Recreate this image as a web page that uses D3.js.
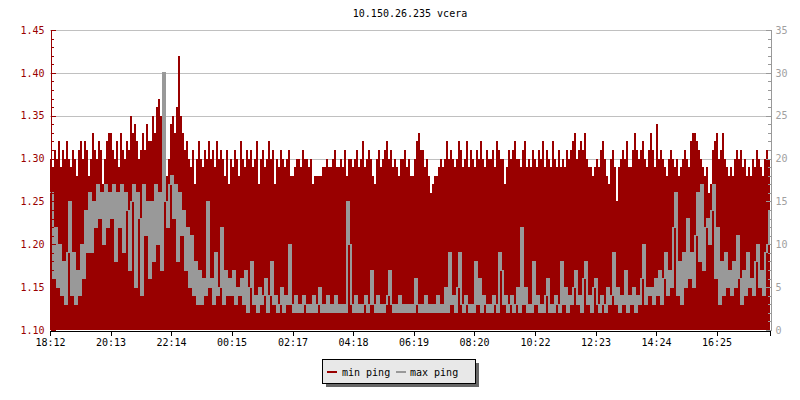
<!DOCTYPE html>
<html>
<head>
<meta charset="utf-8">
<script src="https://cdn.jsdelivr.net/npm/d3@7"></script>
<style>
  html, body { margin: 0; padding: 0; background: #ffffff; }
  svg { display: block; }
  text { font-family: "DejaVu Sans Mono", monospace; font-size: 10px; }
</style>
</head>
<body>
<svg id="chart" width="800" height="400"></svg>
<script>
// ---------------- data ----------------
const title = "10.150.26.235 vcera";
const startTime = "18:12";
const stepMinutes = 4;
const timeTickLabels = ["18:12","20:13","22:14","00:15","02:17","04:18","06:19","08:20","10:22","12:23","14:24","16:25"];
const leftTickLabels = ["1.10","1.15","1.20","1.25","1.30","1.35","1.40","1.45"];
const rightTickLabels = ["0","5","10","15","20","25","30","35"];
const seriesNames = ["min ping", "max ping"];

// min ping (left axis), one value per 4 minutes
const minPing = [
  1.30,1.29,1.31,1.30,1.32,1.29,1.31,1.30,1.32,1.30,
  1.29,1.31,1.30,1.28,1.31,1.32,1.30,1.32,1.31,1.28,
  1.30,1.33,1.31,1.30,1.32,1.31,1.27,1.30,1.32,1.33,
  1.33,1.31,1.30,1.32,1.29,1.33,1.31,1.30,1.32,1.31,
  1.35,1.33,1.34,1.32,1.30,1.31,1.33,1.31,1.34,1.32,
  1.32,1.35,1.33,1.36,1.37,1.35,1.37,1.31,1.28,1.30,
  1.34,1.35,1.33,1.36,1.42,1.35,1.33,1.31,1.32,1.30,
  1.29,1.31,1.27,1.30,1.32,1.30,1.29,1.31,1.30,1.32,
  1.30,1.31,1.29,1.32,1.30,1.31,1.30,1.28,1.31,1.27,
  1.30,1.29,1.31,1.30,1.28,1.32,1.30,1.29,1.31,1.30,
  1.31,1.29,1.30,1.32,1.27,1.30,1.31,1.29,1.30,1.32,
  1.30,1.31,1.27,1.30,1.29,1.31,1.30,1.29,1.30,1.31,
  1.28,1.28,1.29,1.30,1.30,1.29,1.31,1.30,1.30,1.29,
  1.30,1.27,1.28,1.28,1.28,1.28,1.29,1.29,1.30,1.29,
  1.29,1.30,1.31,1.29,1.29,1.30,1.29,1.31,1.28,1.30,
  1.30,1.29,1.30,1.31,1.29,1.30,1.32,1.29,1.30,1.31,
  1.30,1.28,1.27,1.30,1.31,1.29,1.30,1.31,1.32,1.30,
  1.31,1.29,1.30,1.29,1.28,1.30,1.30,1.31,1.29,1.30,
  1.28,1.28,1.30,1.32,1.33,1.31,1.31,1.29,1.30,1.28,
  1.26,1.27,1.28,1.28,1.29,1.30,1.29,1.30,1.32,1.30,
  1.31,1.30,1.29,1.30,1.32,1.31,1.29,1.30,1.32,1.29,
  1.31,1.30,1.29,1.31,1.30,1.32,1.30,1.29,1.31,1.30,
  1.30,1.31,1.29,1.32,1.31,1.30,1.30,1.27,1.29,1.31,
  1.30,1.31,1.32,1.30,1.30,1.29,1.31,1.32,1.29,1.30,
  1.29,1.31,1.30,1.29,1.31,1.30,1.32,1.29,1.31,1.30,
  1.29,1.32,1.30,1.29,1.31,1.29,1.30,1.29,1.31,1.30,
  1.31,1.32,1.33,1.30,1.31,1.32,1.31,1.33,1.30,1.29,
  1.29,1.28,1.29,1.30,1.29,1.31,1.32,1.30,1.28,1.27,
  1.30,1.31,1.29,1.25,1.29,1.30,1.31,1.30,1.32,1.29,
  1.29,1.31,1.33,1.31,1.30,1.31,1.32,1.30,1.29,1.31,
  1.33,1.31,1.29,1.34,1.30,1.31,1.30,1.29,1.28,1.30,
  1.31,1.30,1.29,1.30,1.28,1.29,1.30,1.31,1.30,1.29,
  1.32,1.33,1.33,1.32,1.31,1.30,1.29,1.28,1.29,1.26,
  1.27,1.31,1.32,1.33,1.30,1.31,1.33,1.30,1.29,1.28,
  1.29,1.28,1.30,1.31,1.30,1.31,1.29,1.30,1.28,1.29,
  1.28,1.30,1.29,1.31,1.30,1.29,1.28,1.30,1.31,1.30
];

// max ping (right axis), one value per 4 minutes
const maxPing = [
  16,6,12,5,10,4,8,3,9,15,
  4,9,3,7,4,10,6,14,9,16,
  9,15,12,17,13,16,10,17,12,16,
  13,17,8,16,12,17,9,16,14,7,
  15,17,5,16,13,4,17,11,15,6,
  15,8,17,10,16,7,30,15,12,17,
  18,13,17,8,16,11,14,7,12,5,
  11,4,8,3,7,3,6,4,15,5,
  6,3,9,4,5,12,3,7,4,6,
  4,7,3,5,4,6,3,7,2,5,
  8,3,4,2,5,3,4,6,2,4,
  8,3,4,2,3,5,2,4,3,10,
  3,2,4,2,3,2,4,3,2,3,
  2,4,2,3,5,2,3,2,4,2,
  3,2,4,2,3,2,3,2,15,10,
  3,2,4,2,3,2,3,4,2,3,
  7,3,2,4,2,3,2,3,4,7,
  3,2,3,2,4,2,3,2,3,2,
  3,2,6,3,2,3,2,4,2,3,
  2,3,2,4,2,3,2,5,2,9,
  3,4,2,5,9,3,2,4,3,2,
  3,2,8,3,6,2,4,3,2,3,
  2,4,3,2,9,7,3,4,2,3,
  4,2,3,5,2,12,3,5,2,3,
  2,8,3,4,2,3,2,4,6,2,
  3,2,4,3,2,8,3,5,2,4,
  3,5,7,3,4,2,6,8,3,4,
  2,5,6,3,2,4,3,2,5,3,
  4,9,3,5,2,4,3,7,2,4,
  3,5,2,4,3,6,10,3,5,4,
  5,3,6,4,7,3,6,9,4,7,
  5,12,16,4,8,3,9,5,13,6,
  9,5,11,16,8,17,7,12,13,10,
  14,17,6,12,3,8,4,9,5,7,
  4,8,5,11,6,3,7,4,9,5,
  6,4,8,10,5,7,4,9,10,14
];

// ---------------- chart ----------------
const RED = "#990000", GREY = "#999999", GRID = "#c0c0c0";
const plot = { left: 50, right: 770, top: 30, bottom: 330 };
const svg = d3.select("#chart");

function parseHM(s) { const [h, m] = s.split(":").map(Number); return h * 60 + m; }
const base = new Date(2020, 0, 1, 0, 0);
const startMin = parseHM(startTime);
const t0 = new Date(base.getTime() + startMin * 60000);
const N = minPing.length;
const t1 = new Date(t0.getTime() + N * stepMinutes * 60000);
const times = d3.range(N + 1).map(i => new Date(t0.getTime() + i * stepMinutes * 60000));
const tickDates = timeTickLabels.map(s => {
  let m = parseHM(s); if (m < startMin) m += 1440;
  return new Date(base.getTime() + m * 60000);
});

const x = d3.scaleTime().domain([t0, t1]).range([plot.left, plot.right]);
const yL = d3.scaleLinear().domain([+leftTickLabels[0], +leftTickLabels[leftTickLabels.length - 1]]).range([plot.bottom, plot.top]);
const yR = d3.scaleLinear().domain([+rightTickLabels[0], +rightTickLabels[rightTickLabels.length - 1]]).range([plot.bottom, plot.top]);

// title
svg.append("text").attr("x", 410).attr("y", 17).attr("text-anchor", "middle").attr("fill", "#000").text(title);

// grid
svg.append("g").selectAll("line").data(leftTickLabels.slice(1)).join("line")
  .attr("x1", plot.left).attr("x2", plot.right)
  .attr("y1", d => Math.round(yL(+d)) + 0.5).attr("y2", d => Math.round(yL(+d)) + 0.5)
  .attr("stroke", GRID).attr("stroke-width", 1).attr("shape-rendering", "crispEdges");

// min ping bars
svg.append("g").attr("shape-rendering", "crispEdges").selectAll("rect").data(minPing).join("rect")
  .attr("x", (d, i) => x(times[i]))
  .attr("width", (d, i) => x(times[i + 1]) - x(times[i]))
  .attr("y", d => yL(d))
  .attr("height", d => plot.bottom - yL(d))
  .attr("fill", RED);

// max ping: line drawn column by column (vertical span from previous to current value)
svg.append("g").attr("shape-rendering", "crispEdges").selectAll("rect").data(maxPing).join("rect")
  .attr("x", (d, i) => x(times[i]))
  .attr("width", (d, i) => x(times[i + 1]) - x(times[i]))
  .attr("y", (d, i) => yR(Math.max(d, i > 0 ? maxPing[i - 1] : d)) - 0.5)
  .attr("height", (d, i) => Math.abs(yR(d) - yR(i > 0 ? maxPing[i - 1] : d)) + 1)
  .attr("fill", GREY);

// left axis
const minorL = d3.range(110, 146).map(v => v / 100);
const gL = svg.append("g").attr("transform", `translate(${plot.left + 0.5},0)`);
gL.call(d3.axisLeft(yL).tickValues(minorL).tickSize(-3).tickFormat(""));
const gL2 = svg.append("g").attr("transform", `translate(${plot.left + 0.5},0)`);
gL2.call(d3.axisLeft(yL).tickValues(leftTickLabels.map(Number)).tickSize(-5).tickPadding(6).tickFormat((d, i) => leftTickLabels[i]));
[gL, gL2].forEach(g => {
  g.select(".domain").attr("stroke", RED).attr("stroke-width", 1);
  g.selectAll(".tick line").attr("stroke", RED);
  g.selectAll("text").attr("fill", RED).style("font-family", "DejaVu Sans Mono").style("font-size", "10px");
  g.attr("shape-rendering", "crispEdges");
});

// right axis
const gR = svg.append("g").attr("transform", `translate(${plot.right + 0.5},0)`);
gR.call(d3.axisRight(yR).tickValues(d3.range(0, 36)).tickSize(-3).tickFormat(""));
const gR2 = svg.append("g").attr("transform", `translate(${plot.right + 0.5},0)`);
gR2.call(d3.axisRight(yR).tickValues(rightTickLabels.map(Number)).tickSize(-5).tickPadding(5).tickFormat((d, i) => rightTickLabels[i]));
[gR, gR2].forEach(g => {
  g.select(".domain").attr("stroke", GREY);
  g.selectAll(".tick line").attr("stroke", GREY);
  g.selectAll("text").attr("fill", "#a0a0a0").style("font-family", "DejaVu Sans Mono").style("font-size", "10px");
  g.attr("shape-rendering", "crispEdges");
});

// bottom axis
const gX = svg.append("g").attr("transform", `translate(0,${plot.bottom + 0.5})`);
gX.call(d3.axisBottom(x).tickValues(tickDates).tickSize(5).tickPadding(3).tickFormat((d, i) => timeTickLabels[i]));
gX.select(".domain").attr("stroke", "#000");
gX.selectAll(".tick line").attr("stroke", "#000");
gX.selectAll("text").attr("fill", "#000").style("font-family", "DejaVu Sans Mono").style("font-size", "10px");
gX.attr("shape-rendering", "crispEdges");

// legend
const lg = svg.append("g").attr("shape-rendering", "crispEdges");
lg.append("rect").attr("x", 326).attr("y", 363).attr("width", 153).attr("height", 24).attr("fill", "#666");
lg.append("rect").attr("x", 322.5).attr("y", 359.5).attr("width", 153).attr("height", 24).attr("fill", "#e8e8e8").attr("stroke", "#000");
const legendItems = [
  { name: seriesNames[0], color: RED, lx: 327, tx: 342 },
  { name: seriesNames[1], color: GREY, lx: 396, tx: 410 }
];
legendItems.forEach(it => {
  lg.append("rect").attr("x", it.lx).attr("y", 371).attr("width", 10).attr("height", 2).attr("fill", it.color);
  lg.append("text").attr("x", it.tx).attr("y", 375.5).attr("fill", "#000").text(it.name);
});
</script>
</body>
</html>
